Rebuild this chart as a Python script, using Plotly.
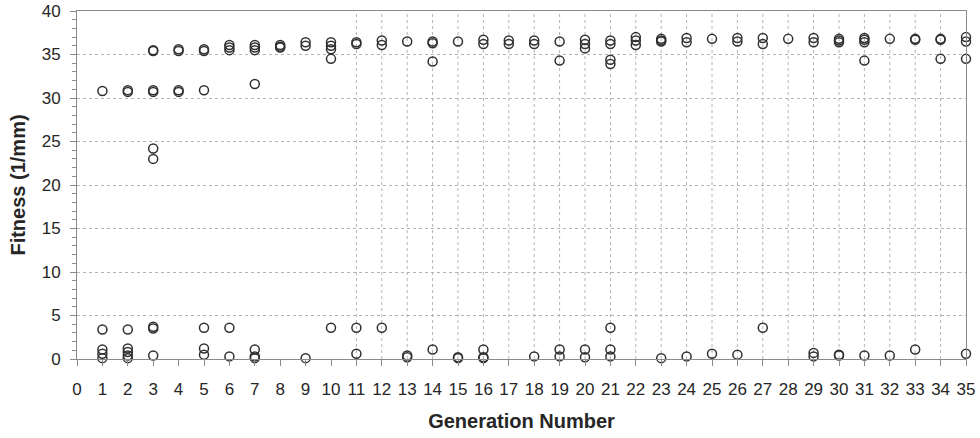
import plotly.graph_objects as go

# Data
generation = (
    [1] * 5 + [2] * 7 + [3] * 9 + [4] * 4 + [5] * 6 + [6] * 5 + [7] * 7 + [8] * 3 +
    [9] * 3 + [10] * 5 + [11] * 4 + [12] * 3 + [13] * 3 + [14] * 4 + [15] * 3 + [16] * 5 +
    [17] * 2 + [18] * 3 + [19] * 4 + [20] * 5 + [21] * 7 + [22] * 3 + [23] * 4 + [24] * 3 +
    [25] * 2 + [26] * 3 + [27] * 3 + [28] * 1 + [29] * 4 + [30] * 5 + [31] * 5 + [32] * 2 +
    [33] * 3 + [34] * 3 + [35] * 4
)
fitness = [
    30.8, 3.4, 1.1, 0.6, 0.1,                      # 1
    30.7, 30.9, 3.4, 1.2, 0.8, 0.4, 0.1,           # 2
    35.5, 35.4, 30.7, 30.9, 24.2, 23.0, 3.5, 3.7, 0.4,  # 3
    35.4, 35.6, 30.7, 30.9,                        # 4
    35.4, 35.6, 30.9, 3.6, 1.2, 0.5,               # 5
    36.1, 35.8, 35.5, 3.6, 0.3,                    # 6
    36.1, 35.8, 35.5, 31.6, 1.1, 0.3, 0.1,         # 7
    36.1, 35.9, 35.8,                              # 8
    36.4, 36.0, 0.1,                               # 9
    36.4, 36.0, 35.6, 34.5, 3.6,                   # 10
    36.2, 36.4, 3.6, 0.6,                          # 11
    36.6, 36.1, 3.6,                               # 12
    36.5, 0.4, 0.2,                                # 13
    36.3, 36.5, 34.2, 1.1,                         # 14
    36.5, 0.2, 0.1,                                # 15
    36.7, 36.2, 1.1, 0.2, 0.1,                     # 16
    36.2, 36.6,                                    # 17
    36.2, 36.6, 0.3,                               # 18
    36.5, 34.3, 1.1, 0.3,                          # 19
    36.7, 36.2, 35.7, 1.1, 0.2,                    # 20
    36.6, 36.2, 34.4, 33.9, 3.6, 1.1, 0.3,         # 21
    37.0, 36.6, 36.1,                              # 22
    36.8, 36.6, 36.5, 0.1,                         # 23
    36.9, 36.4, 0.3,                               # 24
    36.8, 0.6,                                     # 25
    36.9, 36.5, 0.5,                               # 26
    36.9, 36.2, 3.6,                               # 27
    36.8,                                          # 28
    36.9, 36.4, 0.7, 0.3,                          # 29
    36.8, 36.6, 36.4, 0.5, 0.4,                    # 30
    36.9, 36.7, 36.4, 34.3, 0.4,                   # 31
    36.8, 0.4,                                     # 32
    36.8, 36.7, 1.1,                               # 33
    36.8, 36.7, 34.5,                              # 34
    37.0, 36.5, 34.5, 0.6,                         # 35
]

x_ticks = list(range(0, 36))
x_grid = list(range(11, 35))
y_ticks = [0, 5, 10, 15, 20, 25, 30, 35, 40]

FONT = "Liberation Sans, Arial, sans-serif"
AXIS = "#8a8a8a"
GRID = "#b4b4b4"
TEXT = "#262626"

fig = go.Figure()
fig.add_trace(go.Scatter(
    x=generation, y=fitness, mode="markers",
    marker=dict(symbol="circle-open", size=9, color="#303030",
                line=dict(width=1.5, color="#303030")),
    cliponaxis=False, showlegend=False, hoverinfo="x+y",
))

# vertical dotted grid lines (visible only from generation 11 on in the reference)
for gx in x_grid:
    fig.add_shape(type="line", xref="x", yref="paper", x0=gx, x1=gx, y0=0, y1=1,
                  line=dict(color=GRID, width=1, dash="dot"), layer="below")

fig.update_layout(
    width=980, height=438,
    margin=dict(l=77, r=14, t=11, b=79),
    paper_bgcolor="white", plot_bgcolor="white",
    font=dict(family=FONT, color=TEXT, size=17),
    xaxis=dict(
        range=[0, 35], tickmode="array", tickvals=x_ticks,
        ticktext=[str(v) for v in x_ticks],
        showgrid=False, zeroline=False, automargin=False,
        showline=True, linecolor=AXIS, linewidth=1, mirror=True,
        ticks="outside", ticklen=6, tickcolor=AXIS, tickwidth=1,
        ticklabelstandoff=9,
        tickfont=dict(size=17, family=FONT, color=TEXT),
        title=dict(text="Generation Number", standoff=15,
                   font=dict(size=20, family=FONT, color=TEXT, weight="bold")),
    ),
    yaxis=dict(
        range=[0, 40], tickmode="array", tickvals=y_ticks,
        showgrid=True, gridcolor=GRID, griddash="dot", gridwidth=1,
        zeroline=False, automargin=False,
        showline=True, linecolor=AXIS, linewidth=1, mirror=True,
        ticks="outside", ticklen=6, tickcolor=AXIS, tickwidth=1,
        minor=dict(dtick=1, ticks="outside", ticklen=4, tickcolor=AXIS, showgrid=False),
        ticklabelstandoff=6,
        tickfont=dict(size=17, family=FONT, color=TEXT),
        title=dict(text="Fitness (1/mm)", standoff=10,
                   font=dict(size=20, family=FONT, color=TEXT, weight="bold")),
    ),
)
fig.write_html("out.html",
               config={"displayModeBar": False},
               post_script="document.body.style.margin='0';document.body.style.overflow='hidden';")
